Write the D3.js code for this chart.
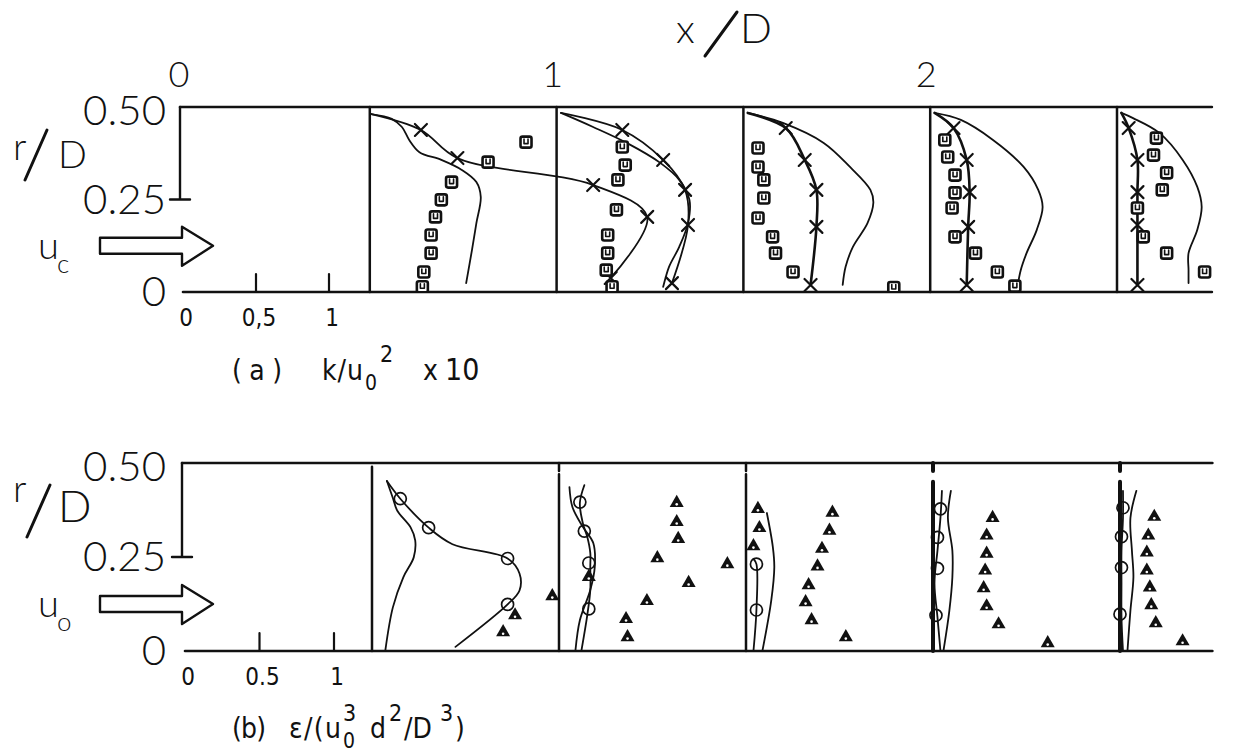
<!DOCTYPE html>
<html>
<head>
<meta charset="utf-8">
<script src="https://cdn.jsdelivr.net/npm/d3@7"></script>
<style>
    body { margin: 0; background: #fff; }
    svg { display: block; }
    .big { font-family: Lato, "Open Sans", "DejaVu Sans", sans-serif; font-weight: 300; fill: #111; }
    .cap { font-family: "DejaVu Sans Condensed", "Liberation Sans Narrow", "DejaVu Sans", sans-serif; font-stretch: condensed; fill: #111; }
    .ink { fill: none; stroke: #111; stroke-linecap: round; stroke-linejoin: round; }
</style>
</head>
<body>
<svg id="chart" width="1251" height="753"></svg>
<script>
// ---- data ----
// measuring stations x/D, one profile per station
const stations= [0.5, 1, 1.5, 2, 2.5]
const stationLabels= [0, 1, 2]
const rTicks= [0.5, 0.25, 0]
const rTickLabels= ["0.50", "0.25", "0"]
const valueTicks= [0, 0.5, 1]
const kTickLabels= ["0", "0,5", "1"]
const epsTickLabels= ["0", "0.5", "1"]

// (a) k/u0^2 x 10 ; points are [value, r/D]
const kSolid= [
    [[0.01,0.481],[0.15,0.468],[0.22,0.446],[0.27,0.411],[0.34,0.378],[0.49,0.357],[0.63,0.330],[0.73,0.297],[0.76,0.257],[0.73,0.186],[0.70,0.114],[0.66,0.024]],
    [[0.03,0.484],[0.25,0.446],[0.48,0.403],[0.71,0.349],[0.84,0.303],[0.91,0.249],[0.90,0.186],[0.84,0.122],[0.77,0.068],[0.73,0.014]],
    [[0.03,0.484],[0.27,0.457],[0.55,0.403],[0.73,0.338],[0.87,0.276],[0.89,0.241],[0.85,0.186],[0.75,0.122],[0.70,0.068],[0.68,0.019]],
    [[0.03,0.484],[0.21,0.465],[0.43,0.411],[0.64,0.338],[0.74,0.276],[0.77,0.230],[0.73,0.168],[0.66,0.105],[0.62,0.059],[0.60,0.019]],
    [[0.03,0.484],[0.11,0.470],[0.29,0.430],[0.45,0.357],[0.55,0.284],[0.58,0.230],[0.55,0.168],[0.49,0.105],[0.49,0.059],[0.49,0.024]],
]
// first point is the wall start of the curve, the rest carry a x marker
const kCross= [
    [[0.01,0.481],[0.35,0.438],[0.60,0.362],[1.53,0.289],[1.90,0.203],[1.65,0.038]],
    [[0.03,0.484],[0.45,0.438],[0.73,0.357],[0.88,0.276],[0.90,0.181],[0.79,0.024]],
    [[0.03,0.484],[0.29,0.443],[0.42,0.357],[0.50,0.276],[0.50,0.176],[0.46,0.019]],
    [[0.03,0.484],[0.16,0.443],[0.25,0.357],[0.27,0.270],[0.26,0.176],[0.25,0.019]],
    [[0.03,0.484],[0.08,0.443],[0.14,0.357],[0.14,0.270],[0.14,0.181],[0.14,0.019]],
]
const kSquare= [
    [[1.07,0.405],[0.81,0.351],[0.56,0.297],[0.49,0.249],[0.45,0.203],[0.42,0.154],[0.42,0.105],[0.37,0.054],[0.36,0.014]],
    [[0.45,0.392],[0.47,0.343],[0.42,0.303],[0.41,0.222],[0.35,0.154],[0.35,0.105],[0.34,0.059],[0.38,0.014]],
    [[0.10,0.389],[0.10,0.338],[0.14,0.303],[0.14,0.254],[0.10,0.200],[0.20,0.149],[0.22,0.105],[0.34,0.054],[1.03,0.012]],
    [[0.10,0.411],[0.12,0.365],[0.17,0.316],[0.17,0.268],[0.15,0.227],[0.17,0.149],[0.31,0.105],[0.46,0.054],[0.58,0.016]],
    [[0.27,0.416],[0.25,0.370],[0.34,0.322],[0.31,0.276],[0.14,0.227],[0.18,0.149],[0.34,0.105],[0.60,0.054]],
]

// (b) eps/(u0^3 d^2/D^3) ; points are [value, r/D]
const epsLineA= [
    [[0.10,0.452],[0.19,0.405],[0.38,0.328],[0.54,0.284],[0.91,0.246],[0.99,0.206],[0.99,0.161],[0.91,0.124],[0.56,0.011]],
    [[0.17,0.441],[0.14,0.394],[0.16,0.340],[0.19,0.303],[0.21,0.261],[0.21,0.223],[0.21,0.162],[0.19,0.096],[0.15,0.0]],
    [[0.05,0.245],[0.07,0.231],[0.07,0.109],[0.05,0.0]],
    [[0.06,0.426],[0.05,0.354],[0.03,0.267],[0.01,0.180],[0.03,0.090],[0.05,0.0]],
    [[0.02,0.426],[0.02,0.354],[0.01,0.267],[0.01,0.180],[0.01,0.090],[0.02,0.0]],
]
const epsLineB= [
    [[0.10,0.452],[0.14,0.407],[0.17,0.373],[0.26,0.328],[0.29,0.294],[0.28,0.249],[0.21,0.196],[0.14,0.116],[0.09,0.003]],
    [[0.07,0.436],[0.09,0.383],[0.16,0.330],[0.23,0.287],[0.24,0.223],[0.21,0.162],[0.14,0.082],[0.11,0.0]],
    [[0.14,0.367],[0.18,0.277],[0.19,0.223],[0.17,0.136],[0.11,0.0]],
    [[0.12,0.426],[0.10,0.354],[0.13,0.267],[0.13,0.196],[0.11,0.108],[0.07,0.0]],
    [[0.11,0.426],[0.07,0.354],[0.08,0.267],[0.09,0.196],[0.07,0.108],[0.05,0.0]],
]
const epsCircle= [
    [[0.19,0.405],[0.38,0.328],[0.91,0.246],[0.91,0.124]],
    [[0.14,0.396],[0.17,0.319],[0.20,0.234],[0.20,0.112]],
    [[0.07,0.231],[0.07,0.109]],
    [[0.05,0.378],[0.03,0.302],[0.03,0.220],[0.02,0.095]],
    [[0.02,0.381],[0.01,0.304],[0.01,0.222],[0.00,0.098]],
]
const epsTriangle= [
    [[0.96,0.095],[0.88,0.050],[1.21,0.146]],
    [[0.79,0.394],[0.79,0.343],[0.80,0.298],[0.66,0.247],[1.13,0.231],[0.20,0.197],[0.87,0.181],[0.59,0.133],[0.45,0.085],[0.46,0.037]],
    [[0.08,0.378],[0.09,0.327],[0.05,0.279],[0.58,0.368],[0.56,0.320],[0.51,0.272],[0.48,0.225],[0.42,0.175],[0.40,0.130],[0.44,0.082],[0.67,0.037]],
    [[0.40,0.354],[0.36,0.307],[0.36,0.259],[0.35,0.214],[0.34,0.167],[0.36,0.119],[0.44,0.071],[0.77,0.021]],
    [[0.23,0.357],[0.19,0.307],[0.18,0.262],[0.18,0.214],[0.20,0.169],[0.21,0.122],[0.24,0.074],[0.42,0.026]],
]

// ---- layout ----
const svg= d3.select("#chart")
const curve= d3.line().curve(d3.curveCatmullRom.alpha(0.5))

const panelA= {
    id: "a",
    x: d3.scaleLinear().domain([0, 2.5]).range([183, 1117]),
    v: d3.scaleLinear().domain([0, 1]).range([0, 146]),
    y: d3.scaleLinear().domain([0, 0.5]).range([292, 107]),
    vEnd: 0.65,
    tickLabels: kTickLabels,
    stationTop: [0.5, 0.5, 0.5, 0.5, 0.5],
    stationWidth: [2.5, 2.5, 2.5, 2.5, 2.5],
    flowSub: "c",
    rD: {r: 160, d: 168, dSize: 38, slash: [25, 180, 47, 130]},
}
const panelB= {
    id: "b",
    x: d3.scaleLinear().domain([0, 2.5]).range([185, 1120]),
    v: d3.scaleLinear().domain([0, 1]).range([0, 149]),
    y: d3.scaleLinear().domain([0, 0.5]).range([651, 463]),
    vEnd: 0.62,
    tickLabels: epsTickLabels,
    stationTop: [0.49, 0.47, 0.47, 0.45, 0.45],
    stationWidth: [2.5, 2.5, 2.5, 4, 4],
    flowSub: "o",
    rD: {r: 502, d: 522, dSize: 44, slash: [27, 537, 50, 485]},
}

function drawFrame(p) {
    const {x, v, y}= p
    const g= svg.append("g").attr("class", "frame-" + p.id)
    const left= x(0) - 3
    const right= x(2.5) + v(p.vEnd)

    // top wall, partial r/D axis and the value axis
    g.append("path").attr("class", "ink").attr("stroke-width", 2.6)
        .attr("d", `M${left},${y(0.5)}H${right}`)
    g.append("path").attr("class", "ink").attr("stroke-width", 2.4)
        .attr("d", `M${left},${y(0.5)}V${y(0.25)}M${left - 10},${y(0.25)}H${left + 10}`)
    g.append("path").attr("class", "ink").attr("stroke-width", 2.6)
        .attr("d", `M${x(0)},${y(0)}H${right}`)

    // inward ticks of the value scale
    g.selectAll(".vtick").data(valueTicks.slice(1)).join("path")
        .attr("class", "ink").attr("stroke-width", 2.2)
        .attr("d", d => `M${x(0) + v(d)},${y(0)}v-18`)
    g.selectAll(".vlab").data(valueTicks).join("text")
        .attr("class", "cap").attr("font-size", 24)
        .attr("text-anchor", "middle")
        .attr("x", d => x(0) + v(d) + 3).attr("y", y(0) + 34)
        .text((d, i) => p.tickLabels[i])

    // r/D labels
    g.selectAll(".rlab").data(rTicks).join("text")
        .attr("class", "big").attr("font-size", 42).attr("text-anchor", "end")
        .attr("x", 166).attr("y", d => y(d) + (d === 0.5 ? 18 : 14))
        .text((d, i) => rTickLabels[i])

    g.append("text").attr("class", "big").attr("font-size", 38)
        .attr("x", 13).attr("y", p.rD.r).text("r")
    const s= p.rD.slash
    g.append("path").attr("class", "ink").attr("stroke-width", 3)
        .attr("d", `M${s[0]},${s[1]}L${s[2]},${s[3]}`)
    g.append("text").attr("class", "big").attr("font-size", p.rD.dSize)
        .attr("x", 58).attr("y", p.rD.d).text("D")

    // inflow arrow with u label
    const ay= y(0.125)
    g.append("path").attr("class", "ink").attr("stroke-width", 2.4)
        .attr("d", `M100,${ay - 8}H182V${ay - 19}L213,${ay}L182,${ay + 20}V${ay + 8}H100Z`)
    g.append("text").attr("class", "big").attr("font-size", 38)
        .attr("x", 38).attr("y", ay + 13).text("u")
    g.append("text").attr("class", "big").attr("font-size", 26)
        .attr("x", 57).attr("y", ay + 27).text(p.flowSub)

    // measuring stations
    g.selectAll(".station").data(stations).join("path")
        .attr("class", "ink")
        .attr("stroke-width", (d, i) => p.stationWidth[i])
        .attr("d", (d, i) => `M${x(d)},${y(p.stationTop[i])}V${y(0)}` +
            (p.stationTop[i] < 0.48 ? `M${x(d)},${y(0.5)}v8` : ""))

    // clip for marks sitting on the axis
    svg.append("clipPath").attr("id", "clip-" + p.id)
        .append("rect").attr("x", left).attr("y", y(0.5) - 20)
        .attr("width", right - left + 40).attr("height", y(0) - y(0.5) + 19)
    return svg.append("g").attr("clip-path", `url(#clip-${p.id})`)
}

function pts(p, st, arr) {
    return arr.map(d => [p.x(st) + p.v(d[0]), p.y(d[1])])
}

// ---- panel (a) ----
const ga= drawFrame(panelA)
stations.forEach((st, i) => {
    ga.append("path").attr("class", "ink").attr("stroke-width", 1.8)
        .attr("d", curve(pts(panelA, st, kSolid[i])))
    ga.append("path").attr("class", "ink").attr("stroke-width", i > 1 ? 2.6 : 1.8)
        .attr("d", curve(pts(panelA, st, kCross[i])))

    ga.append("g").selectAll("path").data(pts(panelA, st, kCross[i].slice(1))).join("path")
        .attr("class", "ink").attr("stroke-width", 2.2)
        .attr("d", d => `M${d[0] - 6},${d[1] - 6}L${d[0] + 6},${d[1] + 6}M${d[0] - 6},${d[1] + 6}L${d[0] + 6},${d[1] - 6}`)

    const sq= ga.append("g").selectAll("g").data(pts(panelA, st, kSquare[i])).join("g")
        .attr("transform", d => `translate(${d[0]},${d[1]})`)
    sq.append("rect").attr("x", -5.5).attr("y", -5.5).attr("width", 11).attr("height", 11).attr("rx", 2)
        .attr("fill", "#fff").attr("stroke", "#111").attr("stroke-width", 2.6)
    sq.append("path").attr("class", "ink").attr("stroke-width", 1.6).attr("d", "M-2,-3V1.5H2V-3")
})

// ---- panel (b) ----
const gb= drawFrame(panelB)
stations.forEach((st, i) => {
    gb.append("path").attr("class", "ink").attr("stroke-width", 1.8)
        .attr("d", curve(pts(panelB, st, epsLineA[i])))
    gb.append("path").attr("class", "ink").attr("stroke-width", 1.8)
        .attr("d", curve(pts(panelB, st, epsLineB[i])))

    gb.append("g").selectAll("circle").data(pts(panelB, st, epsCircle[i])).join("circle")
        .attr("cx", d => d[0]).attr("cy", d => d[1]).attr("r", 6)
        .attr("fill", "none").attr("stroke", "#111").attr("stroke-width", 1.7)

    const tri= gb.append("g").selectAll("g").data(pts(panelB, st, epsTriangle[i])).join("g")
        .attr("transform", d => `translate(${d[0]},${d[1]})`)
    tri.append("path").attr("d", d3.symbol(d3.symbolTriangle, 85)).attr("fill", "#111")
    tri.append("circle").attr("cx", 0).attr("cy", 1.5).attr("r", 1.3).attr("fill", "#fff")
})

// ---- x/D scale above ----
svg.selectAll(".xdlab").data(stationLabels).join("text")
    .attr("class", "big").attr("font-size", 36).attr("text-anchor", "middle")
    .attr("x", d => panelA.x(d) - 4).attr("y", 87)
    .text(d => d)
svg.append("text").attr("class", "big").attr("font-size", 40).attr("x", 676).attr("y", 43).text("x")
svg.append("path").attr("class", "ink").attr("stroke-width", 3).attr("d", "M705,56L737,12")
svg.append("text").attr("class", "big").attr("font-size", 42).attr("x", 740).attr("y", 43).text("D")

// ---- captions ----
// parts: [text, x, baseline, size, width]
function caption(parts) {
    const t= svg.append("g")
    parts.forEach(([txt, x, y, size, w]) => {
        const el= t.append("text").attr("class", "cap").attr("font-size", size)
            .attr("x", x).attr("y", y).text(txt)
        if(w) el.attr("textLength", w).attr("lengthAdjust", "spacing")
    })
}
caption([
    ["(a)", 232, 380, 28, 50], ["k/u", 322, 380, 28, 41], ["0", 365, 390, 21], ["2", 380, 362, 23],
    ["x", 423, 380, 28], ["10", 445, 380, 30],
])
caption([
    ["(b)", 232, 738, 28, 34], ["\u03b5/(u", 289, 738, 28, 52], ["0", 343, 748, 21], ["3", 343, 721, 23],
    ["d", 370, 738, 28], ["2", 389, 721, 23], ["/D", 404, 738, 28], ["3", 440, 721, 23],
    [")", 455, 738, 28],
])
</script>
</body>
</html>
